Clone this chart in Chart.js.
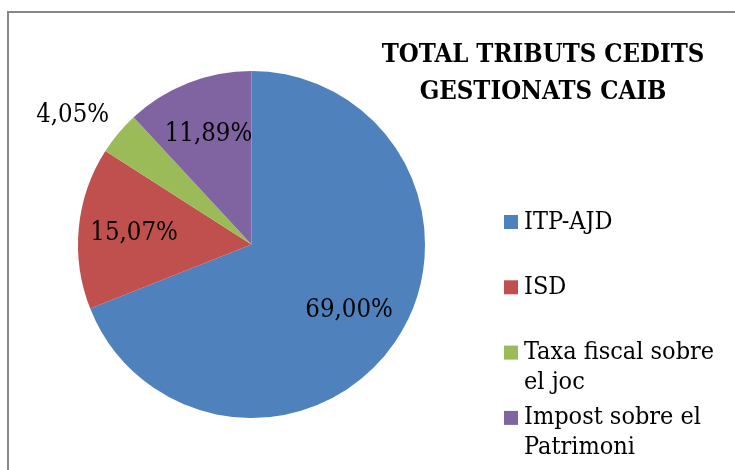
<!DOCTYPE html>
<html>
<head>
<meta charset="utf-8">
<script src="https://cdn.jsdelivr.net/npm/chart.js@4/dist/chart.umd.min.js"></script>
<style>
  html, body { margin: 0; padding: 0; background: #fff; }
  canvas { display: block; }
</style>
</head>
<body>
<canvas id="myChart" width="735" height="470"></canvas>
<script>
const labels = [
  "ITP-AJD",
  "ISD",
  "Taxa fiscal sobre el joc",
  "Impost sobre el Patrimoni",
];
const values = [69.0, 15.07, 4.05, 11.89];
const colors = ["#4F81BD", "#C0504D", "#9BBB59", "#8064A2"];
const titleLines = ["TOTAL TRIBUTS CEDITS", "GESTIONATS CAIB"];

const serif = '"DejaVu Serif Condensed", "DejaVu Serif", serif';

function fmt(v) {
  return v.toFixed(2).replace(".", ",") + "%";
}

function wrap(ctx, text, maxWidth) {
  const words = text.split(" ");
  const lines = [];
  let line = "";
  words.forEach(function (w) {
    const test = line ? line + " " + w : w;
    if (line && ctx.measureText(test).width > maxWidth) {
      lines.push(line);
      line = w;
    } else {
      line = test;
    }
  });
  if (line) lines.push(line);
  return lines;
}

// frame, title, labels and legend, drawn around the pie
const decor = {
  id: "decor",
  beforeDraw(chart) {
    const ctx = chart.ctx;
    ctx.save();
    ctx.fillStyle = "#888888";
    ctx.fillRect(7, 11, 2, 470);
    ctx.fillRect(7, 11, 735, 2);
    ctx.restore();
  },
  afterDraw(chart) {
    const ctx = chart.ctx;
    const meta = chart.getDatasetMeta(0);
    ctx.save();

    // title
    ctx.fillStyle = "#000";
    ctx.font = "bold 25.5px " + serif;
    ctx.textAlign = "center";
    ctx.textBaseline = "alphabetic";
    titleLines.forEach(function (t, i) {
      ctx.fillText(t, 543, 62 + i * 37);
    });

    // percentage labels (small slices go outside)
    ctx.font = "25.5px " + serif;
    ctx.textBaseline = "middle";
    meta.data.forEach(function (arc, i) {
      const p = arc.getProps(["x", "y", "startAngle", "endAngle", "outerRadius"]);
      const mid = (p.startAngle + p.endAngle) / 2;
      const c = Math.cos(mid), s = Math.sin(mid);
      if (values[i] < 5) {
        const x = p.x + c * p.outerRadius * 1.07;
        const y = p.y + s * p.outerRadius * 1.07;
        ctx.textAlign = c < 0 ? "right" : "left";
        ctx.fillText(fmt(values[i]), x, y + (s < 0 ? -10 : 10));
      } else {
        ctx.textAlign = "center";
        ctx.fillText(fmt(values[i]), p.x + c * p.outerRadius * 0.68, p.y + s * p.outerRadius * 0.68);
      }
    });

    // legend
    ctx.font = "25px " + serif;
    ctx.textAlign = "left";
    labels.forEach(function (lab, i) {
      const y0 = 222 + i * 65.3;
      ctx.fillStyle = colors[i];
      ctx.fillRect(504, y0 - 7, 14, 14);
      ctx.fillStyle = "#000";
      wrap(ctx, lab, 200).forEach(function (ln, j) {
        ctx.fillText(ln, 524, y0 + j * 30);
      });
    });
    ctx.restore();
  },
};

const data = {
  labels: labels,
  datasets: [
    {
      data: values,
      backgroundColor: colors,
      borderWidth: 0,
    },
  ],
};

const config = {
  type: "pie",
  data: data,
  options: {
    responsive: false,
    animation: false,
    layout: { padding: { left: 78, right: 310, top: 71, bottom: 52 } },
    plugins: {
      legend: { display: false },
      title: { display: false },
      tooltip: { enabled: false },
    },
  },
  plugins: [decor],
};

const pieChart = new Chart(document.getElementById("myChart"), config);
</script>
</body>
</html>
